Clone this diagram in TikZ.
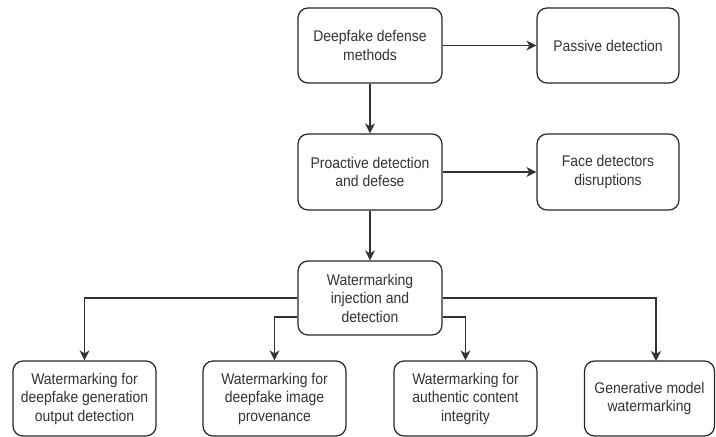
\documentclass[tikz,border=0pt]{standalone}
\usepackage{fontspec}
\setmainfont{Liberation Sans}
\newfontfamily\boxfont[FakeStretch=0.9]{Liberation Sans}
\usetikzlibrary{arrows.meta}
\begin{document}
\begin{tikzpicture}[x=1pt,y=-1pt,
  box/.style={draw=black!85, line width=1.2pt, rounded corners=10pt, align=center,
    inner sep=0pt, text=black!80,
    font=\boxfont\fontsize{15.5pt}{18.5pt}\selectfont},
  link/.style={draw=black!80, line width=1.2pt,
    -{Stealth[length=10pt,width=10pt,inset=3pt]}}]
\useasboundingbox (0,0) rectangle (716,437);

% upper levels
\node[box, minimum width=144pt, minimum height=75pt] (defense) at (370,45.5) {Deepfake defense\\methods};
\node[box, minimum width=142pt, minimum height=75pt] (passive) at (608,45.5) {Passive detection};
\node[box, minimum width=144pt, minimum height=76pt] (proactive) at (370,172) {Proactive detection\\and defese};
\node[box, minimum width=142pt, minimum height=76pt] (face) at (608,172) {Face detectors\\disruptions};
\node[box, minimum width=144pt, minimum height=74pt] (wm) at (370,298) {Watermarking\\injection and\\detection};

% leaf level
\node[box, minimum width=143pt, minimum height=75pt] (gen) at (84.5,398.5) {Watermarking for\\deepfake generation\\output detection};
\node[box, minimum width=143pt, minimum height=75pt] (prov) at (274.5,398.5) {Watermarking for\\deepfake image\\provenance};
\node[box, minimum width=143pt, minimum height=75pt] (auth) at (465.5,398.5) {Watermarking for\\authentic content\\integrity};
\node[box, minimum width=130pt, minimum height=75pt] (model) at (649.5,398.5) {Generative model\\watermarking};

% connectors
\draw[link] (defense) -- (passive);
\draw[link] (defense) -- (proactive);
\draw[link] (proactive) -- (face);
\draw[link] (proactive) -- (wm);

\coordinate (modeltop) at (656,361);
\draw[link] (wm.west) -| (gen.north);
\draw[link] (wm.west |- 0,317) -| (prov.north);
\draw[link] (wm.east |- 0,317) -| (auth.north);
\draw[link] (wm.east) -| (modeltop);
\end{tikzpicture}
\end{document}
